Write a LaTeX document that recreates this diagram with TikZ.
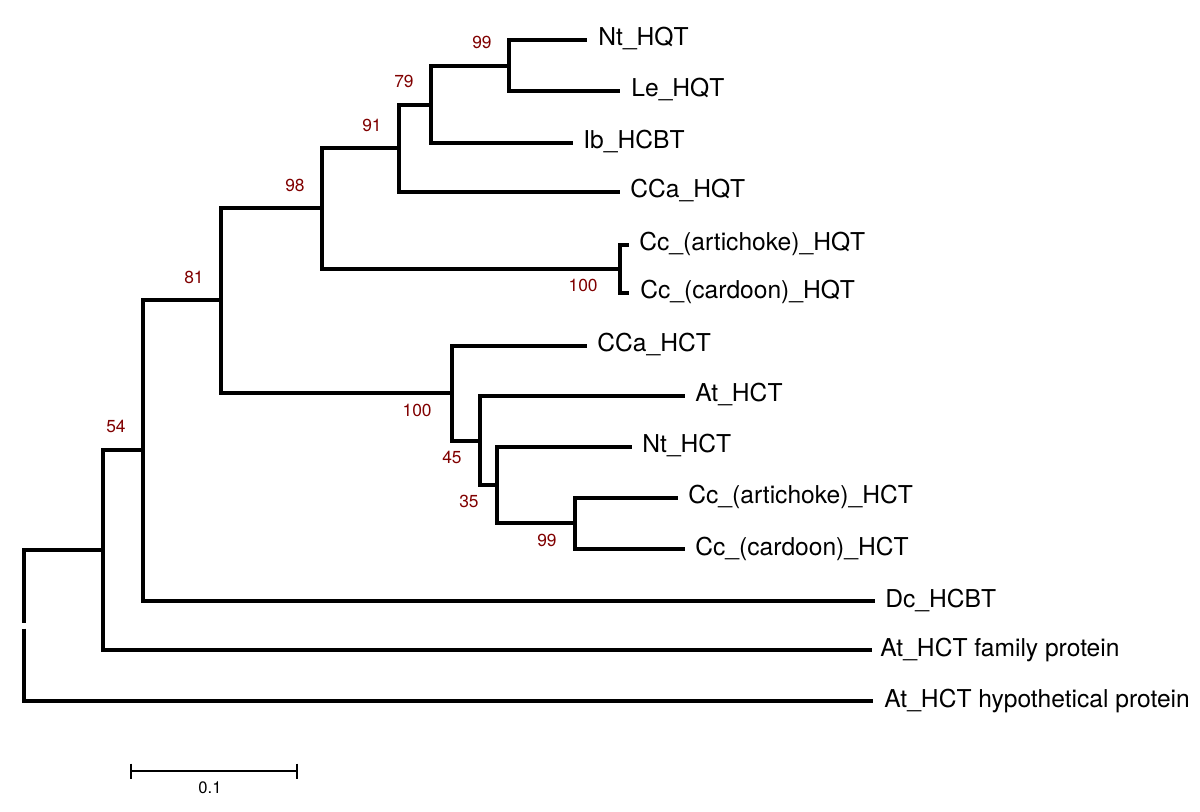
\documentclass[tikz,border=0pt]{standalone}
\usepackage{fontspec}
\setmainfont{TeX Gyre Heros}
\definecolor{boot}{RGB}{128,0,0}
\begin{document}
\begin{tikzpicture}[x=0.5pt,y=-0.5pt,
  branch/.style={line width=2pt},
  leaf/.style={anchor=base west,inner sep=0pt,font=\fontsize{12.3}{14}\selectfont},
  bsabove/.style={anchor=base east,inner sep=0pt,text=boot,font=\fontsize{8.7}{10}\selectfont,xshift=-8.5pt,yshift=8.5pt},
  bsbelow/.style={anchor=base east,inner sep=0pt,text=boot,font=\fontsize{8.7}{10}\selectfont,xshift=-9pt,yshift=-11.5pt},
  scalebar/.style={line width=1pt}]
\useasboundingbox (0,0) rectangle (1200,812);
% internal nodes
\coordinate (R) at (24,625.5);
\coordinate (A) at (103,550);
\coordinate (B) at (143,450);
\coordinate (C) at (221,300.5);
\coordinate (D) at (322,208.5);
\coordinate (E) at (399,148.5);
\coordinate (F) at (431,105);
\coordinate (G) at (509,66);
\coordinate (P) at (620,269);
\coordinate (H) at (452,393.5);
\coordinate (I) at (480,441);
\coordinate (J) at (497,485);
\coordinate (K) at (575,523.5);
% leaf ends
\coordinate (eNtHQT) at (587,40);
\coordinate (eLeHQT) at (620,91);
\coordinate (eIbHCBT) at (573,143);
\coordinate (eCCaHQT) at (620,192);
\coordinate (eCcAHQT) at (629,245);
\coordinate (eCcCHQT) at (629,293);
\coordinate (eCCaHCT) at (587,346);
\coordinate (eAtHCT) at (685,396);
\coordinate (eNtHCT) at (632,447);
\coordinate (eCcAHCT) at (678,498);
\coordinate (eCcCHCT) at (685,549);
\coordinate (eDcHCBT) at (875,601);
\coordinate (eFam) at (872,650);
\coordinate (eHyp) at (873,701);
% branches
\draw[branch] ([yshift=1.5pt]R) |- (A);
\draw[branch] ([yshift=-1.5pt]R) |- (eHyp);
\draw[branch] (A) |- (B);
\draw[branch] (A) |- (eFam);
\draw[branch] (B) |- (C);
\draw[branch] (B) |- (eDcHCBT);
\draw[branch] (C) |- (D);
\draw[branch] (C) |- (H);
\draw[branch] (D) |- (E);
\draw[branch] (D) |- (P);
\draw[branch] (E) |- (F);
\draw[branch] (E) |- (eCCaHQT);
\draw[branch] (F) |- (G);
\draw[branch] (F) |- (eIbHCBT);
\draw[branch] (G) |- (eNtHQT);
\draw[branch] (G) |- (eLeHQT);
\draw[branch] (P) |- (eCcAHQT);
\draw[branch] (P) |- (eCcCHQT);
\draw[branch] (H) |- (eCCaHCT);
\draw[branch] (H) |- (I);
\draw[branch] (I) |- (eAtHCT);
\draw[branch] (I) |- (J);
\draw[branch] (J) |- (eNtHCT);
\draw[branch] (J) |- (K);
\draw[branch] (K) |- (eCcAHCT);
\draw[branch] (K) |- (eCcCHCT);
% leaf labels
\node[leaf] (tNtHQT) at ([xshift=5.5pt,yshift=-3pt]eNtHQT) {Nt\_HQT};
\node[leaf] (tLeHQT) at ([xshift=5.5pt,yshift=-3pt]eLeHQT) {Le\_HQT};
\node[leaf] (tIbHCBT) at ([xshift=5pt,yshift=-3pt]eIbHCBT) {Ib\_HCBT};
\node[leaf] (tCCaHQT) at ([xshift=5pt,yshift=-3pt]eCCaHQT) {CCa\_HQT};
\node[leaf] (tCcAHQT) at ([xshift=5pt,yshift=-3pt]eCcAHQT) {Cc\_(artichoke)\_HQT};
\node[leaf] (tCcCHQT) at ([xshift=5.5pt,yshift=-3pt]eCcCHQT) {Cc\_(cardoon)\_HQT};
\node[leaf] (tCCaHCT) at ([xshift=5pt,yshift=-3pt]eCCaHCT) {CCa\_HCT};
\node[leaf] (tAtHCT) at ([xshift=5pt,yshift=-3pt]eAtHCT) {At\_HCT};
\node[leaf] (tNtHCT) at ([xshift=5pt,yshift=-3pt]eNtHCT) {Nt\_HCT};
\node[leaf] (tCcAHCT) at ([xshift=5pt,yshift=-3pt]eCcAHCT) {Cc\_(artichoke)\_HCT};
\node[leaf] (tCcCHCT) at ([xshift=5pt,yshift=-3pt]eCcCHCT) {Cc\_(cardoon)\_HCT};
\node[leaf] (tDcHCBT) at ([xshift=5pt,yshift=-3pt]eDcHCBT) {Dc\_HCBT};
\node[leaf] (tFam) at ([xshift=4pt,yshift=-3pt]eFam) {At\_HCT family protein};
\node[leaf] (tHyp) at ([xshift=5.5pt,yshift=-3pt]eHyp) {At\_HCT hypothetical protein};
% bootstrap values
\node[bsabove] (bG) at (G) {99};
\node[bsabove] (bF) at (F) {79};
\node[bsabove] (bE) at (E) {91};
\node[bsabove] (bD) at (D) {98};
\node[bsabove] (bC) at (C) {81};
\node[bsabove] (bB) at (B) {54};
\node[bsbelow,xshift=-2pt] (bP) at (P) {100};
\node[bsbelow,xshift=-1pt] (bH) at (H) {100};
\node[bsbelow] (bI) at (I) {45};
\node[bsbelow] (bJ) at (J) {35};
\node[bsbelow] (bK) at (K) {99};
% scale bar
\coordinate (s1) at (131,771);
\coordinate (s2) at (297,771);
\draw[scalebar] (s1) -- (s2);
\draw[scalebar] ([yshift=3.75pt]s1) -- ([yshift=-3.75pt]s1);
\draw[scalebar] ([yshift=3.75pt]s2) -- ([yshift=-3.75pt]s2);
\node[anchor=base,inner sep=0pt,font=\fontsize{8.3}{10}\selectfont] (sl) at (210,793) {0.1};
\end{tikzpicture}
\end{document}
